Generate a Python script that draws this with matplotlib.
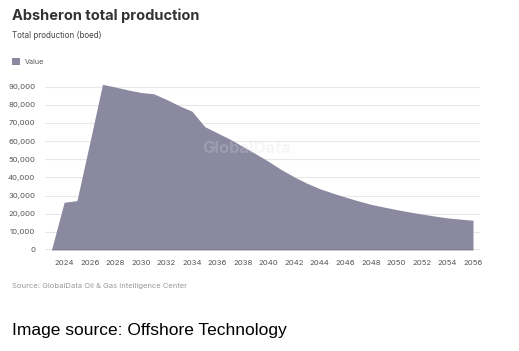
import matplotlib
matplotlib.use("Agg")
import matplotlib.pyplot as plt
from matplotlib.ticker import FuncFormatter
from matplotlib.patches import Rectangle

years = list(range(2023, 2057))
values = [0, 26300, 27200, 59000, 91300, 89800, 88200, 86800, 86100, 83000,
          79500, 76500, 68000, 64500, 61000, 57000, 53000, 48800, 44300, 40300,
          36800, 33800, 31400, 29200, 27100, 25200, 23700, 22300, 21000, 19800,
          18700, 17700, 17000, 16400]
xticks = list(range(2024, 2057, 2))
yticks = list(range(0, 90001, 10000))

title = "Absheron total production"
subtitle = "Total production (boed)"
legend_label = "Value"
source = "Source: GlobalData Oil & Gas Intelligence Center"
image_source = "Image source: Offshore Technology"

W, H = 519, 351
fig = plt.figure(figsize=(W / 100, H / 100), dpi=100)
fig.patch.set_facecolor("white")

def fx(px):
    return px / W

def fy(py):
    return 1 - py / H

ax = fig.add_axes([fx(45), fy(250), fx(480) - fx(45), fy(77.6) - fy(250)])
fill_color = "#8a899f"
ax.fill_between(years, values, 0, color=fill_color, linewidth=0, zorder=2)
ax.set_xlim(2022.5, 2056.55)
ax.set_ylim(0, 95000)
ax.set_xticks(xticks)
ax.set_yticks(yticks)
ax.yaxis.set_major_formatter(FuncFormatter(lambda v, p: f"{int(v):,}"))
for s in ax.spines.values():
    s.set_visible(False)
ax.grid(axis="y", color="#e8e8ea", linewidth=0.8, zorder=1)
ax.axhline(0, color="#444444", linewidth=0.9, zorder=3)
ax.tick_params(axis="both", length=0, labelsize=5.6, labelcolor="#555555",
               labelfontfamily="Inter")
ax.tick_params(axis="x", pad=7)
ax.tick_params(axis="y", pad=7)

ax.text(2038.3, 56000, "GlobalData", fontsize=12, fontweight="bold",
        family="Inter", color="#dcdce4", alpha=0.25, ha="center", va="center", zorder=4)

fig.text(fx(12), fy(16), title, fontsize=10.5, fontweight="bold", family="Inter",
         color="#333333", va="center", ha="left")
fig.text(fx(12), fy(36), subtitle, fontsize=5.8, family="Inter",
         color="#444444", va="center", ha="left")
fig.patches.append(Rectangle((fx(12), fy(65)), fx(8), fy(58) - fy(65),
                             transform=fig.transFigure, facecolor=fill_color,
                             edgecolor="none"))
fig.text(fx(25), fy(61.5), legend_label, fontsize=5.2, family="Inter",
         color="#555555", va="center", ha="left")
fig.text(fx(12), fy(286), source, fontsize=5.5, family="Inter",
         color="#999999", va="center", ha="left")
fig.text(fx(12), fy(330), image_source, fontsize=12.5, family="Liberation Sans",
         color="black", va="center", ha="left")

fig.savefig("out.png", dpi=100, facecolor="white")
